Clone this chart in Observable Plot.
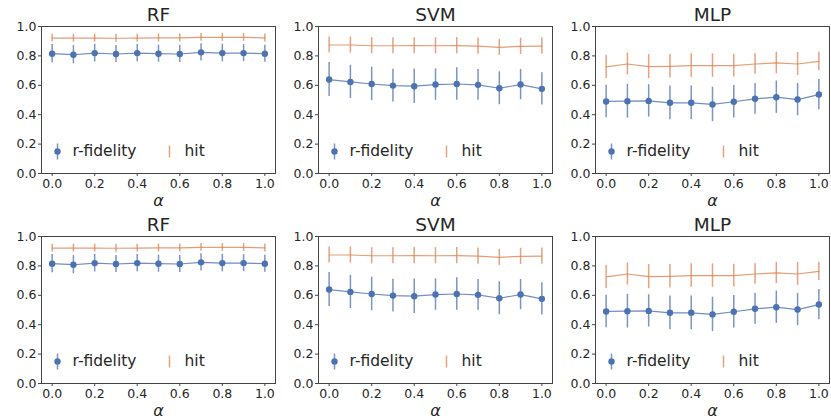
<!DOCTYPE html>
<html>
<head>
<meta charset="utf-8">
<script src="https://cdn.jsdelivr.net/npm/d3@7"></script>
<script src="https://cdn.jsdelivr.net/npm/@observablehq/plot@0.6"></script>
<style>
  html, body { margin: 0; padding: 0; background: #fff; }
  #wrap { position: relative; width: 831px; height: 420px; overflow: hidden; }
  #wrap > svg { position: absolute; }
</style>
</head>
<body>
<div id="wrap"></div>
<script>
const alphas = [0, 0.1, 0.2, 0.3, 0.4, 0.5, 0.6, 0.7, 0.8, 0.9, 1.0];
const xTicks = [0, 0.2, 0.4, 0.6, 0.8, 1.0];
const yTicks = [0, 0.2, 0.4, 0.6, 0.8, 1.0];
const models = ["RF", "SVM", "MLP"];
const seriesNames = ["r-fidelity", "hit"];

const rfFid    = [0.815, 0.808, 0.819, 0.813, 0.819, 0.815, 0.813, 0.824, 0.819, 0.819, 0.815];
const rfFidErr = [0.062, 0.062, 0.060, 0.058, 0.058, 0.058, 0.058, 0.058, 0.060, 0.058, 0.058];
const rfHit    = [0.921, 0.921, 0.921, 0.920, 0.921, 0.922, 0.922, 0.926, 0.926, 0.926, 0.922];
const rfHitErr = [0.027, 0.027, 0.027, 0.027, 0.027, 0.027, 0.027, 0.027, 0.027, 0.027, 0.027];

const svmFid    = [0.639, 0.623, 0.609, 0.598, 0.594, 0.605, 0.609, 0.603, 0.580, 0.605, 0.576];
const svmFidErr = [0.116, 0.113, 0.114, 0.111, 0.117, 0.107, 0.111, 0.105, 0.112, 0.103, 0.110];
const svmHit    = [0.874, 0.874, 0.869, 0.869, 0.870, 0.869, 0.870, 0.867, 0.858, 0.865, 0.867];
const svmHitErr = [0.055, 0.055, 0.055, 0.055, 0.055, 0.055, 0.055, 0.055, 0.055, 0.055, 0.055];

const mlpFid    = [0.490, 0.492, 0.494, 0.481, 0.481, 0.470, 0.488, 0.508, 0.519, 0.503, 0.537];
const mlpFidErr = [0.110, 0.115, 0.110, 0.115, 0.115, 0.117, 0.110, 0.105, 0.110, 0.110, 0.103];
const mlpHit    = [0.725, 0.745, 0.727, 0.729, 0.734, 0.734, 0.734, 0.745, 0.752, 0.745, 0.763];
const mlpHitErr = [0.079, 0.075, 0.082, 0.080, 0.080, 0.080, 0.078, 0.070, 0.073, 0.078, 0.062];

const panelData = {
  RF:  {fid: rfFid,  fidErr: rfFidErr,  hit: rfHit,  hitErr: rfHitErr},
  SVM: {fid: svmFid, fidErr: svmFidErr, hit: svmHit, hitErr: svmHitErr},
  MLP: {fid: mlpFid, fidErr: mlpFidErr, hit: mlpHit, hitErr: mlpHitErr}
};

const BLUE = "#4c72b0", ORANGE = "#dd8452", INK = "#262626";

const vbar = (h) => ({ draw(ctx) { ctx.moveTo(0, -h); ctx.lineTo(0, h); } });

function panel(model) {
  const p = panelData[model];
  const fid = alphas.map((a, i) => ({a, m: p.fid[i], e: p.fidErr[i]}));
  const hit = alphas.map((a, i) => ({a, m: p.hit[i], e: p.hitErr[i]}));
  return Plot.plot({
    width: 277, height: 210,
    marginLeft: 41, marginRight: 2, marginTop: 26, marginBottom: 37,
    style: {fontFamily: "DejaVu Sans, sans-serif", fontSize: "12px", color: INK, background: "white"},
    x: {domain: [-0.05, 1.05]},
    y: {domain: [0, 1]},
    marks: [
      Plot.axisX({ticks: xTicks, tickFormat: d3.format(".1f"), tickSize: 3, tickPadding: 3, label: null, stroke: "#444", fontSize: 12.5}),
      Plot.axisY({ticks: yTicks, tickFormat: d3.format(".1f"), tickSize: 3, tickPadding: 2, label: null, stroke: "#444", fontSize: 12.5}),
      Plot.ruleX(hit, {x: "a", y1: d => d.m - d.e, y2: d => d.m + d.e, stroke: ORANGE, strokeWidth: 1.5, strokeOpacity: 0.75}),
      Plot.line(hit, {x: "a", y: "m", stroke: ORANGE, strokeWidth: 1.2, strokeOpacity: 0.8}),
      Plot.ruleX(fid, {x: "a", y1: d => d.m - d.e, y2: d => d.m + d.e, stroke: BLUE, strokeWidth: 1.5, strokeOpacity: 0.75}),
      Plot.line(fid, {x: "a", y: "m", stroke: BLUE, strokeWidth: 1.2, strokeOpacity: 0.8}),
      Plot.dot(fid, {x: "a", y: "m", r: 3.2, fill: BLUE, stroke: "none"}),
      Plot.frame({stroke: "#444", strokeWidth: 1}),
      // title and axis label
      Plot.text([model], {frameAnchor: "top", dy: -11.5, lineAnchor: "middle", fontSize: 18.5, fill: INK}),
      Plot.text(["α"], {frameAnchor: "bottom", dy: 27, lineAnchor: "middle", fontSize: 16, fontStyle: "italic", fill: INK}),
      // legend
      Plot.dot([seriesNames[0]], {frameAnchor: "bottom-left", dx: 16, dy: -22, r: 8, symbol: vbar(8), stroke: BLUE, strokeWidth: 1.5, strokeOpacity: 0.75, fill: "none"}),
      Plot.dot([seriesNames[0]], {frameAnchor: "bottom-left", dx: 16, dy: -22, r: 3.2, fill: BLUE}),
      Plot.text([seriesNames[0]], {frameAnchor: "bottom-left", dx: 31, dy: -22, lineAnchor: "middle", textAnchor: "start", fontSize: 15.5, fill: INK}),
      Plot.dot([seriesNames[1]], {frameAnchor: "bottom-left", dx: 128, dy: -22, r: 6, symbol: vbar(6), stroke: ORANGE, strokeWidth: 1.5, strokeOpacity: 0.75, fill: "none"}),
      Plot.text([seriesNames[1]], {frameAnchor: "bottom-left", dx: 143, dy: -22, lineAnchor: "middle", textAnchor: "start", fontSize: 15.5, fill: INK})
    ]
  });
}

const wrap = document.getElementById("wrap");
[0, 1].forEach(row => {
  models.forEach((m, col) => {
    const svg = panel(m);
    svg.style.left = (col * 277) + "px";
    svg.style.top = (row * 210) + "px";
    wrap.appendChild(svg);
  });
});
</script>
</body>
</html>
